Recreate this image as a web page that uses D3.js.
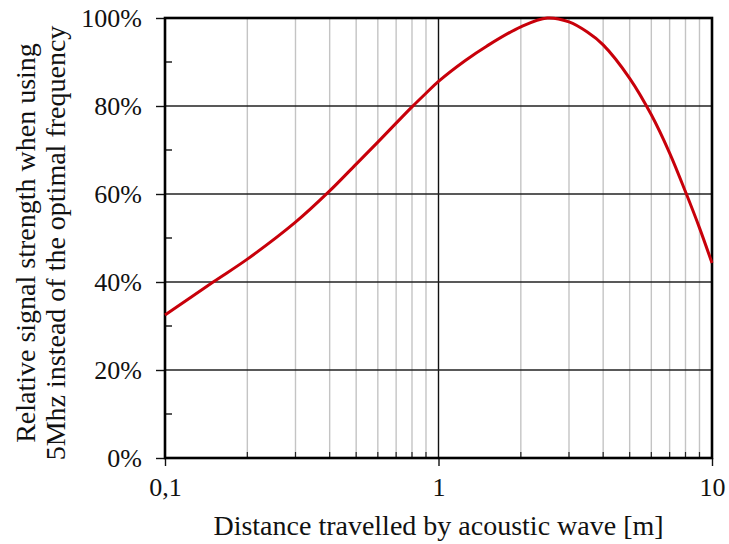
<!DOCTYPE html>
<html>
<head>
<meta charset="utf-8">
<script src="https://cdn.jsdelivr.net/npm/d3@7"></script>
<style>
  body { margin: 0; background: #fff; }
  text { font-family: "Liberation Serif", "Times New Roman", serif; fill: #111; }
</style>
</head>
<body>
<svg id="chart" width="729" height="544"></svg>
<script>
// distance [m] and relative signal strength [%]
var distance = [0.1, 0.15, 0.2, 0.3, 0.4, 0.5, 0.6, 0.7, 0.8, 0.9, 1, 1.25, 1.5, 2, 2.5, 3, 3.5, 4, 5, 6, 7, 8, 9, 10];
var strength = [32.5, 40, 45.2, 53.6, 60.7, 66.8, 71.8, 76.1, 79.8, 82.9, 85.6, 90.3, 93.6, 98, 100, 99.1, 96.8, 93.9, 86.3, 78, 69.3, 60.5, 52.3, 44.3];

var yTicks = [0, 20, 40, 60, 80, 100];
var yMinor = [10, 30, 50, 70, 90];
var xMajor = [0.1, 1, 10];
var xLabels = ["0,1", "1", "10"];
var xMinor = [0.2, 0.3, 0.4, 0.5, 0.6, 0.7, 0.8, 0.9, 2, 3, 4, 5, 6, 7, 8, 9];

var svg = d3.select("#chart");
var pLeft = 165, pRight = 712, pTop = 18, pBottom = 458;

var x = d3.scaleLog().domain([0.1, 10]).range([pLeft, pRight]);
var y = d3.scaleLinear().domain([0, 100]).range([pBottom, pTop]);

// vertical gridlines
svg.append("g")
    .selectAll("line")
    .data(xMinor)
    .enter()
    .append("line")
    .attr("x1", function(d) { return x(d); })
    .attr("x2", function(d) { return x(d); })
    .attr("y1", pTop)
    .attr("y2", pBottom)
    .attr("stroke", "#c4c4c4")
    .attr("stroke-width", 1.4);

// minor x ticks (inside, dark)
svg.append("g")
    .selectAll("line")
    .data(xMinor)
    .enter()
    .append("line")
    .attr("x1", function(d) { return x(d); })
    .attr("x2", function(d) { return x(d); })
    .attr("y1", pBottom - 6)
    .attr("y2", pBottom)
    .attr("stroke", "#222")
    .attr("stroke-width", 1.2);

// gridline at 1
svg.append("line")
    .attr("x1", x(1)).attr("x2", x(1))
    .attr("y1", pTop).attr("y2", pBottom)
    .attr("stroke", "#111").attr("stroke-width", 1.4);

// horizontal gridlines
svg.append("g")
    .selectAll("line")
    .data(yTicks.slice(1, -1))
    .enter()
    .append("line")
    .attr("x1", pLeft)
    .attr("x2", pRight)
    .attr("y1", function(d) { return y(d); })
    .attr("y2", function(d) { return y(d); })
    .attr("stroke", "#222")
    .attr("stroke-width", 1.4);

// minor y ticks (inside)
svg.append("g")
    .selectAll("line")
    .data(yMinor)
    .enter()
    .append("line")
    .attr("x1", pLeft)
    .attr("x2", pLeft + 7)
    .attr("y1", function(d) { return y(d); })
    .attr("y2", function(d) { return y(d); })
    .attr("stroke", "#111")
    .attr("stroke-width", 1.4);

// major y ticks (outside) + labels
var yAxis = d3.axisLeft(y)
    .tickValues(yTicks)
    .tickSize(9)
    .tickPadding(14)
    .tickFormat(function(d) { return d + "%"; });
var gy = svg.append("g")
    .attr("transform", "translate(" + pLeft + ",0)")
    .call(yAxis);
gy.select(".domain").remove();
gy.selectAll(".tick line").attr("stroke", "#111").attr("stroke-width", 1.4);
gy.selectAll(".tick text")
    .attr("font-size", 26)
    .attr("font-family", "Liberation Serif, serif")
    .attr("fill", "#111");

// x axis
var xAxis = d3.axisBottom(x)
    .tickValues(xMajor)
    .tickSize(8)
    .tickPadding(12)
    .tickFormat(function(d, i) { return xLabels[i]; });
var gx = svg.append("g")
    .attr("transform", "translate(0," + pBottom + ")")
    .call(xAxis);
gx.select(".domain").remove();
gx.selectAll(".tick line").attr("stroke", "#111").attr("stroke-width", 1.4);
gx.selectAll(".tick text")
    .attr("font-size", 26)
    .attr("font-family", "Liberation Serif, serif")
    .attr("fill", "#111");

// frame
svg.append("rect")
    .attr("x", pLeft)
    .attr("y", pTop)
    .attr("width", pRight - pLeft)
    .attr("height", pBottom - pTop)
    .attr("fill", "none")
    .attr("stroke", "#000")
    .attr("stroke-width", 2.6);

// curve
var pts = distance.map(function(d, i) { return [d, strength[i]]; });
var line = d3.line()
    .x(function(d) { return x(d[0]); })
    .y(function(d) { return y(d[1]); })
    .curve(d3.curveCatmullRom.alpha(0.5));
svg.append("path")
    .datum(pts)
    .attr("d", line)
    .attr("fill", "none")
    .attr("stroke", "#c8000a")
    .attr("stroke-width", 3);

// axis titles
svg.append("text")
    .attr("x", (pLeft + pRight) / 2)
    .attr("y", 535)
    .attr("text-anchor", "middle")
    .attr("font-size", 28)
    .text("Distance travelled by acoustic wave [m]");

var ty = svg.append("text")
    .attr("transform", "translate(35," + 243 + ") rotate(-90)")
    .attr("text-anchor", "middle")
    .attr("font-size", 28);
ty.append("tspan").attr("x", 0).attr("dy", 0).text("Relative signal strength when using");
ty.append("tspan").attr("x", 0).attr("dy", 30).text("5Mhz instead of the optimal frequency");
</script>
</body>
</html>
